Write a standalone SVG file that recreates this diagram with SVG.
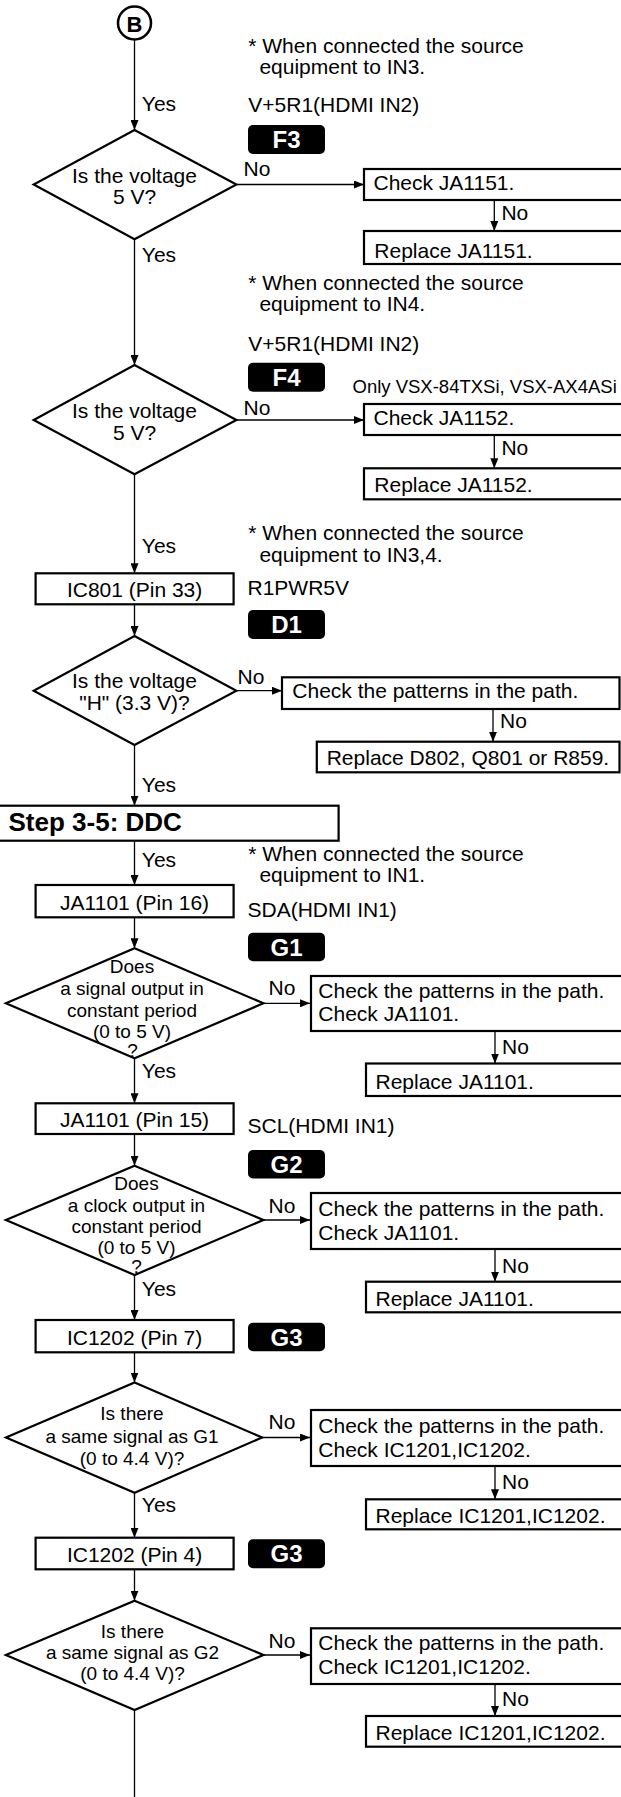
<svg xmlns="http://www.w3.org/2000/svg" width="621" height="1797" viewBox="0 0 621 1797">
<defs>
<marker id="ah" viewBox="0 0 10 8" refX="10" refY="4" markerWidth="10" markerHeight="8" markerUnits="userSpaceOnUse" orient="auto">
<path d="M0,0 L10,4 L0,8 z" fill="#000"/>
</marker>
<style>
text{font-family:"Liberation Sans",Arial,Helvetica,sans-serif;fill:#000;font-size:21px}
.box{fill:#fff;stroke:#000;stroke-width:2.2}
.dia{fill:#fff;stroke:#000;stroke-width:2.2}
.ln{fill:none;stroke:#000;stroke-width:1.3}
.ar{fill:none;stroke:#000;stroke-width:1.3;marker-end:url(#ah)}
.badge{fill:#000}
.bt{fill:#fff;font-weight:bold;font-size:24px;text-anchor:middle}
.c{text-anchor:middle}
.sm{font-size:19px}
.only{font-size:18.5px}
.step{font-size:26px;font-weight:bold}
.bb{font-size:22px;font-weight:bold;text-anchor:middle}
</style>
</defs>
<rect x="0" y="0" width="621" height="1797" fill="#fff"/>

<g id="connectors">
<line class="ar" x1="134.5" y1="40" x2="134.5" y2="130"/>
<line class="ar" x1="134.5" y1="239.3" x2="134.5" y2="365"/>
<line class="ar" x1="134.5" y1="474.3" x2="134.5" y2="573.3"/>
<line class="ar" x1="134.5" y1="604.3" x2="134.5" y2="636"/>
<line class="ar" x1="134.5" y1="745" x2="134.5" y2="805.7"/>
<line class="ar" x1="134.5" y1="840.7" x2="134.5" y2="885"/>
<line class="ar" x1="134.5" y1="917.3" x2="134.5" y2="948.3"/>
<line class="ar" x1="134.5" y1="1058.3" x2="134.5" y2="1103.3"/>
<line class="ar" x1="134.5" y1="1134" x2="134.5" y2="1165.7"/>
<line class="ar" x1="134.5" y1="1275" x2="134.5" y2="1320"/>
<line class="ar" x1="134.5" y1="1352.3" x2="134.5" y2="1382.5"/>
<line class="ar" x1="134.5" y1="1492.7" x2="134.5" y2="1537.7"/>
<line class="ar" x1="134.5" y1="1569.3" x2="134.5" y2="1600.7"/>
<line class="ln" x1="134.5" y1="1710" x2="134.5" y2="1797"/>

<line class="ar" x1="236.4" y1="184.5" x2="364" y2="184.5"/>
<line class="ar" x1="236.4" y1="420" x2="364" y2="420"/>
<line class="ar" x1="236.4" y1="690.7" x2="282" y2="690.7"/>
<line class="ar" x1="263.4" y1="1003.3" x2="310" y2="1003.3"/>
<line class="ar" x1="263.4" y1="1220" x2="310" y2="1220"/>
<line class="ar" x1="262" y1="1437.5" x2="310" y2="1437.5"/>
<line class="ar" x1="263.4" y1="1655" x2="310" y2="1655"/>

<line class="ar" x1="494.3" y1="200" x2="494.3" y2="231"/>
<line class="ar" x1="494.3" y1="435" x2="494.3" y2="468.3"/>
<line class="ar" x1="493" y1="709" x2="493" y2="741.7"/>
<line class="ar" x1="495" y1="1031" x2="495" y2="1063.5"/>
<line class="ar" x1="495" y1="1249" x2="495" y2="1281.7"/>
<line class="ar" x1="495" y1="1466" x2="495" y2="1499.3"/>
<line class="ar" x1="495" y1="1684" x2="495" y2="1716"/>

<text x="141.8" y="110.7">Yes</text>
<text x="141.8" y="261.7">Yes</text>
<text x="141.8" y="553.3">Yes</text>
<text x="141.8" y="792.3">Yes</text>
<text x="141.8" y="866.7">Yes</text>
<text x="141.8" y="1078.3">Yes</text>
<text x="141.8" y="1295.7">Yes</text>
<text x="141.8" y="1511.7">Yes</text>

<text x="243.6" y="175.7">No</text>
<text x="243.6" y="415">No</text>
<text x="237.6" y="684">No</text>
<text x="268.5" y="995">No</text>
<text x="268.5" y="1213.3">No</text>
<text x="268.5" y="1428.5">No</text>
<text x="268.5" y="1648.3">No</text>

<text x="501.4" y="220">No</text>
<text x="501.4" y="455">No</text>
<text x="500" y="728.3">No</text>
<text x="502" y="1053.5">No</text>
<text x="502" y="1273">No</text>
<text x="502" y="1489.3">No</text>
<text x="502" y="1706">No</text>
</g>

<g id="start-b">
<circle cx="134.5" cy="23" r="16.5" fill="#fff" stroke="#000" stroke-width="2.5"/>
<text class="bb" x="134.5" y="31.5">B</text>
</g>

<g id="notes">
<text x="248.3" y="53.3">* When connected the source</text>
<text x="259.4" y="74">equipment to IN3.</text>
<text x="248.3" y="112">V+5R1(HDMI IN2)</text>
<text x="248.3" y="290">* When connected the source</text>
<text x="259.4" y="311">equipment to IN4.</text>
<text x="248.3" y="350.7">V+5R1(HDMI IN2)</text>
<text class="only" x="352.5" y="393.3">Only VSX-84TXSi, VSX-AX4ASi</text>
<text x="248.3" y="540">* When connected the source</text>
<text x="259.4" y="561.7">equipment to IN3,4.</text>
<text x="247.5" y="595">R1PWR5V</text>
<text x="248.3" y="861.2">* When connected the source</text>
<text x="259.4" y="881.7">equipment to IN1.</text>
<text x="247.5" y="917.3">SDA(HDMI IN1)</text>
<text x="247.5" y="1133.3">SCL(HDMI IN1)</text>
</g>

<g id="badge-f3"><rect class="badge" x="248" y="125" width="77" height="29" rx="5"/><text class="bt" x="286.5" y="148">F3</text></g>
<g id="badge-f4"><rect class="badge" x="248" y="362.7" width="77" height="29" rx="5"/><text class="bt" x="286.5" y="385.7">F4</text></g>
<g id="badge-d1"><rect class="badge" x="248" y="610" width="77" height="29" rx="5"/><text class="bt" x="286.5" y="633">D1</text></g>
<g id="badge-g1"><rect class="badge" x="248" y="932.7" width="77" height="28.5" rx="5"/><text class="bt" x="286.5" y="955.5">G1</text></g>
<g id="badge-g2"><rect class="badge" x="248" y="1150" width="77" height="28.5" rx="5"/><text class="bt" x="286.5" y="1172.8">G2</text></g>
<g id="badge-g3a"><rect class="badge" x="248" y="1322.7" width="77" height="28.5" rx="5"/><text class="bt" x="286.5" y="1345.5">G3</text></g>
<g id="badge-g3b"><rect class="badge" x="248" y="1539.3" width="77" height="29" rx="5"/><text class="bt" x="286.5" y="1562.3">G3</text></g>

<g id="dec1">
<polygon class="dia" points="134.5,130 236.4,184.5 134.5,239.3 33.7,184.5"/>
<text class="c" x="134.5" y="182.7">Is the voltage</text>
<text class="c" x="134.5" y="204.3">5 V?</text>
</g>
<g id="chk-ja1151">
<rect class="box" x="364" y="169" width="280" height="31"/>
<text x="373.5" y="190">Check JA1151.</text>
</g>
<g id="rep-ja1151">
<rect class="box" x="364" y="231" width="280" height="33"/>
<text x="374.3" y="258.3">Replace JA1151.</text>
</g>

<g id="dec2">
<polygon class="dia" points="134.5,365 236.4,420 134.5,474.3 33.7,420"/>
<text class="c" x="134.5" y="418.3">Is the voltage</text>
<text class="c" x="134.5" y="440">5 V?</text>
</g>
<g id="chk-ja1152">
<rect class="box" x="364" y="404" width="280" height="31"/>
<text x="373.5" y="425">Check JA1152.</text>
</g>
<g id="rep-ja1152">
<rect class="box" x="364" y="468.3" width="280" height="31"/>
<text x="374.3" y="492.3">Replace JA1152.</text>
</g>

<g id="ic801">
<rect class="box" x="35.6" y="573.3" width="198" height="31"/>
<text class="c" x="134.6" y="596.7">IC801 (Pin 33)</text>
</g>

<g id="dec3">
<polygon class="dia" points="134.5,636 236.4,690.7 134.5,745 33.7,690.7"/>
<text class="c" x="134.5" y="688.3">Is the voltage</text>
<text class="c" x="134.5" y="710">"H" (3.3 V)?</text>
</g>
<g id="chk-pat1">
<rect class="box" x="282" y="677.3" width="337.5" height="31.7"/>
<text x="292.3" y="698.3">Check the patterns in the path.</text>
</g>
<g id="rep-d802">
<rect class="box" x="316.8" y="741.7" width="302.7" height="30.6"/>
<text x="326.7" y="765">Replace D802, Q801 or R859.</text>
</g>

<g id="step35">
<rect class="box" x="-5" y="805.7" width="343.6" height="35"/>
<text class="step" x="8.5" y="831">Step 3-5: DDC</text>
</g>

<g id="ja1101-16">
<rect class="box" x="35.6" y="885" width="198" height="32.3"/>
<text class="c" x="134.6" y="910">JA1101 (Pin 16)</text>
</g>

<g id="dec4">
<polygon class="dia" points="134.6,948.3 263.4,1003.3 134.6,1058.3 5.9,1003.3"/>
<text class="c sm" x="132" y="973.3">Does</text>
<text class="c sm" x="132" y="995">a signal output in</text>
<text class="c sm" x="132" y="1016.7">constant period</text>
<text class="c sm" x="132" y="1038.3">(0 to 5 V)</text>
<text class="c sm" x="132.5" y="1056.7">?</text>
</g>
<g id="chk-ja1101a">
<rect class="box" x="311" y="976" width="334" height="55"/>
<text x="318.3" y="997.5">Check the patterns in the path.</text>
<text x="318.3" y="1021">Check JA1101.</text>
</g>
<g id="rep-ja1101a">
<rect class="box" x="366" y="1063.5" width="280" height="32.5"/>
<text x="375.5" y="1088.5">Replace JA1101.</text>
</g>

<g id="ja1101-15">
<rect class="box" x="35.6" y="1103.3" width="198" height="30.7"/>
<text class="c" x="134.6" y="1126.7">JA1101 (Pin 15)</text>
</g>

<g id="dec5">
<polygon class="dia" points="134.6,1165.7 263.4,1220 134.6,1275 5.9,1220"/>
<text class="c sm" x="136.5" y="1190">Does</text>
<text class="c sm" x="136.5" y="1211.7">a clock output in</text>
<text class="c sm" x="136.5" y="1233.3">constant period</text>
<text class="c sm" x="136.5" y="1254.3">(0 to 5 V)</text>
<text class="c sm" x="136.5" y="1272.5">?</text>
</g>
<g id="chk-ja1101b">
<rect class="box" x="311" y="1193" width="334" height="56"/>
<text x="318.3" y="1215.5">Check the patterns in the path.</text>
<text x="318.3" y="1239.5">Check JA1101.</text>
</g>
<g id="rep-ja1101b">
<rect class="box" x="366" y="1281.7" width="280" height="30.6"/>
<text x="375.5" y="1306">Replace JA1101.</text>
</g>

<g id="ic1202-7">
<rect class="box" x="35.6" y="1320" width="198" height="32.3"/>
<text class="c" x="134.6" y="1345">IC1202 (Pin 7)</text>
</g>

<g id="dec6">
<polygon class="dia" points="134.6,1382.5 262,1437.5 134.6,1492.7 6,1437.5"/>
<text class="c sm" x="132" y="1420">Is there</text>
<text class="c sm" x="132" y="1442.5">a same signal as G1</text>
<text class="c sm" x="132" y="1464.5">(0 to 4.4 V)?</text>
</g>
<g id="chk-ic1201a">
<rect class="box" x="311" y="1410" width="334" height="56"/>
<text x="318.3" y="1432.5">Check the patterns in the path.</text>
<text x="318.3" y="1457">Check IC1201,IC1202.</text>
</g>
<g id="rep-ic1201a">
<rect class="box" x="366" y="1499.3" width="280" height="30"/>
<text x="375.5" y="1522.7">Replace IC1201,IC1202.</text>
</g>

<g id="ic1202-4">
<rect class="box" x="35.6" y="1537.7" width="198" height="31.6"/>
<text class="c" x="134.6" y="1561.7">IC1202 (Pin 4)</text>
</g>

<g id="dec7">
<polygon class="dia" points="134.6,1600.7 263.4,1655 134.6,1710 5.9,1655"/>
<text class="c sm" x="132.5" y="1638.3">Is there</text>
<text class="c sm" x="132.5" y="1658.8">a same signal as G2</text>
<text class="c sm" x="132.5" y="1680">(0 to 4.4 V)?</text>
</g>
<g id="chk-ic1201b">
<rect class="box" x="311" y="1628.3" width="334" height="55.7"/>
<text x="318.3" y="1649.5">Check the patterns in the path.</text>
<text x="318.3" y="1674">Check IC1201,IC1202.</text>
</g>
<g id="rep-ic1201b">
<rect class="box" x="366" y="1716" width="280" height="30.7"/>
<text x="375.5" y="1740">Replace IC1201,IC1202.</text>
</g>
</svg>
